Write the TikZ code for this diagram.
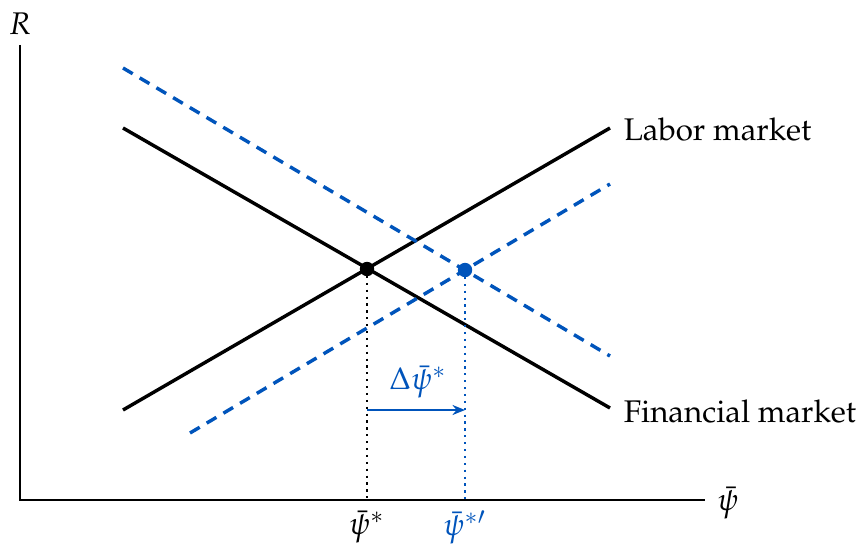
\documentclass[tikz,border=0pt]{standalone}
\usepackage[T1]{fontenc}
\usepackage{mathpazo}
\usetikzlibrary{arrows.meta}
\definecolor{myblue}{RGB}{0,84,187}
\begin{document}
\begin{tikzpicture}[x=0.3195pt,y=-0.3195pt,
  axis/.style={line width=0.5pt},
  curve/.style={line width=1.1pt},
  shifted/.style={line width=1.1pt,myblue,dash pattern=on 3.6pt off 2.6pt},
  guide/.style={line width=0.7pt,dash pattern=on 0.7pt off 1.5pt},
  dotpt/.style={circle,fill,inner sep=0pt,minimum size=4.6pt},
  lab/.style={inner sep=1pt}]
\useasboundingbox (0,0) rectangle (862,544);
% axes
\coordinate (O) at (20,500);
\coordinate (ytop) at (20,45);
\coordinate (xend) at (705,500);
\draw[axis] (ytop) -- (O) -- (xend);
\node[lab] (R) at (20,24) {$R$};
\node[lab] (psi) at (728,503) {$\bar{\psi}$};
% original curves
\coordinate (L1) at (123,410);
\coordinate (L2) at (610,128);
\coordinate (F1) at (123,128);
\coordinate (F2) at (610,408);
\draw[curve] (L1) -- (L2);
\draw[curve] (F1) -- (F2);
% shifted curves
\coordinate (LB1) at (190,433);
\coordinate (LB2) at (610,184);
\coordinate (FB1) at (123,68);
\coordinate (FB2) at (610,356);
\draw[shifted] (LB1) -- (LB2);
\draw[shifted] (FB1) -- (FB2);
% equilibria
\coordinate (X1) at (367,500);
\coordinate (X2) at (465,500);
\coordinate (E1c) at (367,269);
\coordinate (E2c) at (465,270);
\draw[guide] (E1c) -- (X1);
\draw[guide,myblue] (E2c) -- (X2);
\node[dotpt] (E1) at (E1c) {};
\node[dotpt,myblue] (E2) at (E2c) {};
% labels
\node[lab,anchor=west] (labor) at (620,130) {Labor market};
\node[lab,anchor=west] (fin) at (620,412) {Financial market};
\node[lab,anchor=north] (s1) at (367,507) {$\bar{\psi}^{*}$};
\node[lab,anchor=north,text=myblue] (s2) at (465,507) {$\bar{\psi}^{*\prime}$};
% shift arrow
\coordinate (A1) at (367,410);
\coordinate (A2) at (465,410);
\draw[myblue,line width=0.7pt,-{Stealth[length=4pt,width=3.2pt]}] (A1) -- (A2);
\node[lab,text=myblue] (d) at (418,382) {$\Delta\bar{\psi}^{*}$};
\end{tikzpicture}
\end{document}
